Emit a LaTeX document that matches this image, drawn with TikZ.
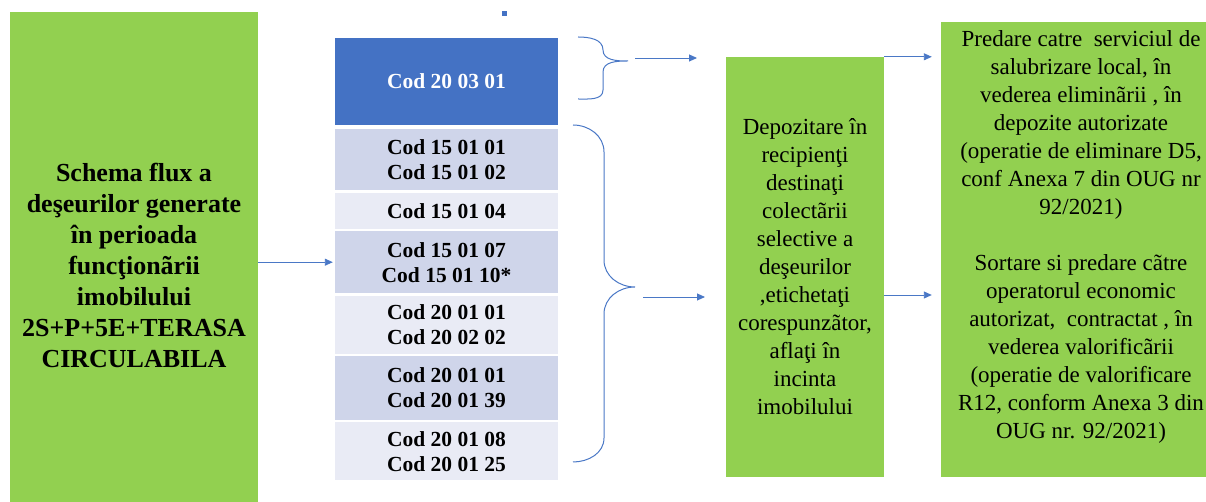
\documentclass[tikz,border=0pt]{standalone}
\usepackage{fontspec}
\setmainfont{Liberation Serif}
\usetikzlibrary{arrows.meta,positioning}

\definecolor{fluxgreen}{HTML}{92D050}
\definecolor{codblue}{HTML}{4472C4}
\definecolor{codrowA}{HTML}{CFD5EA}
\definecolor{codrowB}{HTML}{E9EBF5}
\definecolor{linkblue}{HTML}{4A78C6}

\tikzset{
	greenbox/.style={fill=fluxgreen,inner sep=0pt},
	codrow/.style={inner sep=0pt,minimum width=223pt,align=center,
		font=\fontsize{21.5}{25}\selectfont\bfseries},
	flow/.style={draw=linkblue,line width=0.9pt,-{Triangle[length=8pt,width=7pt]}},
	bracket/.style={draw=linkblue,line width=1pt}
}

\begin{document}
\begin{tikzpicture}[x=1pt,y=1pt]
	\useasboundingbox (0,0) rectangle (1206,502);
	% left box
	\node[greenbox,minimum width=248pt,minimum height=490pt] (left) at (134,245) {};
	\node[align=center,font=\fontsize{26}{31}\selectfont\bfseries] (lefttxt) at (134,237)
		{Schema flux a\\deşeurilor generate\\în perioada\\funcţionãrii\\imobilului\\2S+P+5E+TERASA\\CIRCULABILA};
	% small square
	\fill[codblue] (502,486) rectangle (507,491);
	% codes
	\node[codrow,fill=codblue,text=white,minimum height=87pt] (c0) at (446.5,420.5) {Cod 20 03 01};
	\node[codrow,fill=codrowA,minimum height=61pt,below=4pt of c0] (c1) {Cod 15 01 01\\Cod 15 01 02};
	\node[codrow,fill=codrowB,minimum height=36pt,below=2pt of c1] (c2) {Cod 15 01 04};
	\node[codrow,fill=codrowA,minimum height=62pt,below=2pt of c2] (c3) {Cod 15 01 07\\Cod 15 01 10*};
	\node[codrow,fill=codrowB,minimum height=58pt,below=2pt of c3] (c4) {Cod 20 01 01\\Cod 20 02 02};
	\node[codrow,fill=codrowA,minimum height=64pt,below=2pt of c4] (c5) {Cod 20 01 01\\Cod 20 01 39};
	\node[codrow,fill=codrowB,minimum height=58pt,below=2pt of c5] (c6) {Cod 20 01 08\\Cod 20 01 25};
	\draw[flow] (left.east |- c3.west) -- ([xshift=-2pt]c3.west);
	% braces
	\draw[bracket] (578,465) to[out=0,in=90] (603,452) to[out=-90,in=180] (628,441)
		coordinate (tip1) to[out=180,in=90] (603,430) -- (603,412) to[out=-90,in=0] (578,403);
	\draw[bracket] (573,377) to[out=0,in=90] (604,350) -- (604,242) to[out=-90,in=180] (635,215)
		coordinate (tip2) to[out=180,in=90] (604,188) -- (604,64) to[out=-90,in=0] (573,40);
	% middle box
	\node[greenbox,minimum width=158pt,minimum height=420pt] (mid) at (805,235) {};
	\node[align=center,font=\fontsize{23}{28}\selectfont] (midtxt) at (mid.center)
		{Depozitare în\\recipienţi\\destinaţi\\colectãrii\\selective a\\deşeurilor\\,etichetaţi\\corespunzãtor,\\aflaţi în\\incinta\\imobilului};
	\coordinate (b1s) at (635,444);
	\coordinate (b1e) at (697,444);
	\coordinate (b2s) at (643,205);
	\coordinate (b2e) at (705,205);
	\draw[flow] (b1s) -- (b1e);
	\draw[flow] (b2s) -- (b2e);
	% right box
	\node[greenbox,minimum width=279pt,minimum height=455pt] (right) at (1080.5,252.5) {};
	\node[align=center,font=\fontsize{23}{28}\selectfont] (righttxt) at (1081,265)
		{Predare catre \ serviciul de\\salubrizare local, în\\vederea eliminãrii , în\\depozite autorizate\\(operatie de eliminare D5,\\conf Anexa 7 din OUG nr\\92/2021)\\[28pt]
		Sortare si predare cãtre\\operatorul economic\\autorizat, \ contractat , în\\vederea valorificãrii\\(operatie de valorificare\\R12, conform Anexa 3 din\\OUG nr. 92/2021)};
	\coordinate (r2) at (0,207);
	\draw[flow,shorten >=9pt] (mid.north east) -- (mid.north east -| right.west);
	\draw[flow,shorten >=9pt] (mid.east |- r2) -- (right.west |- r2);
\end{tikzpicture}
\end{document}
